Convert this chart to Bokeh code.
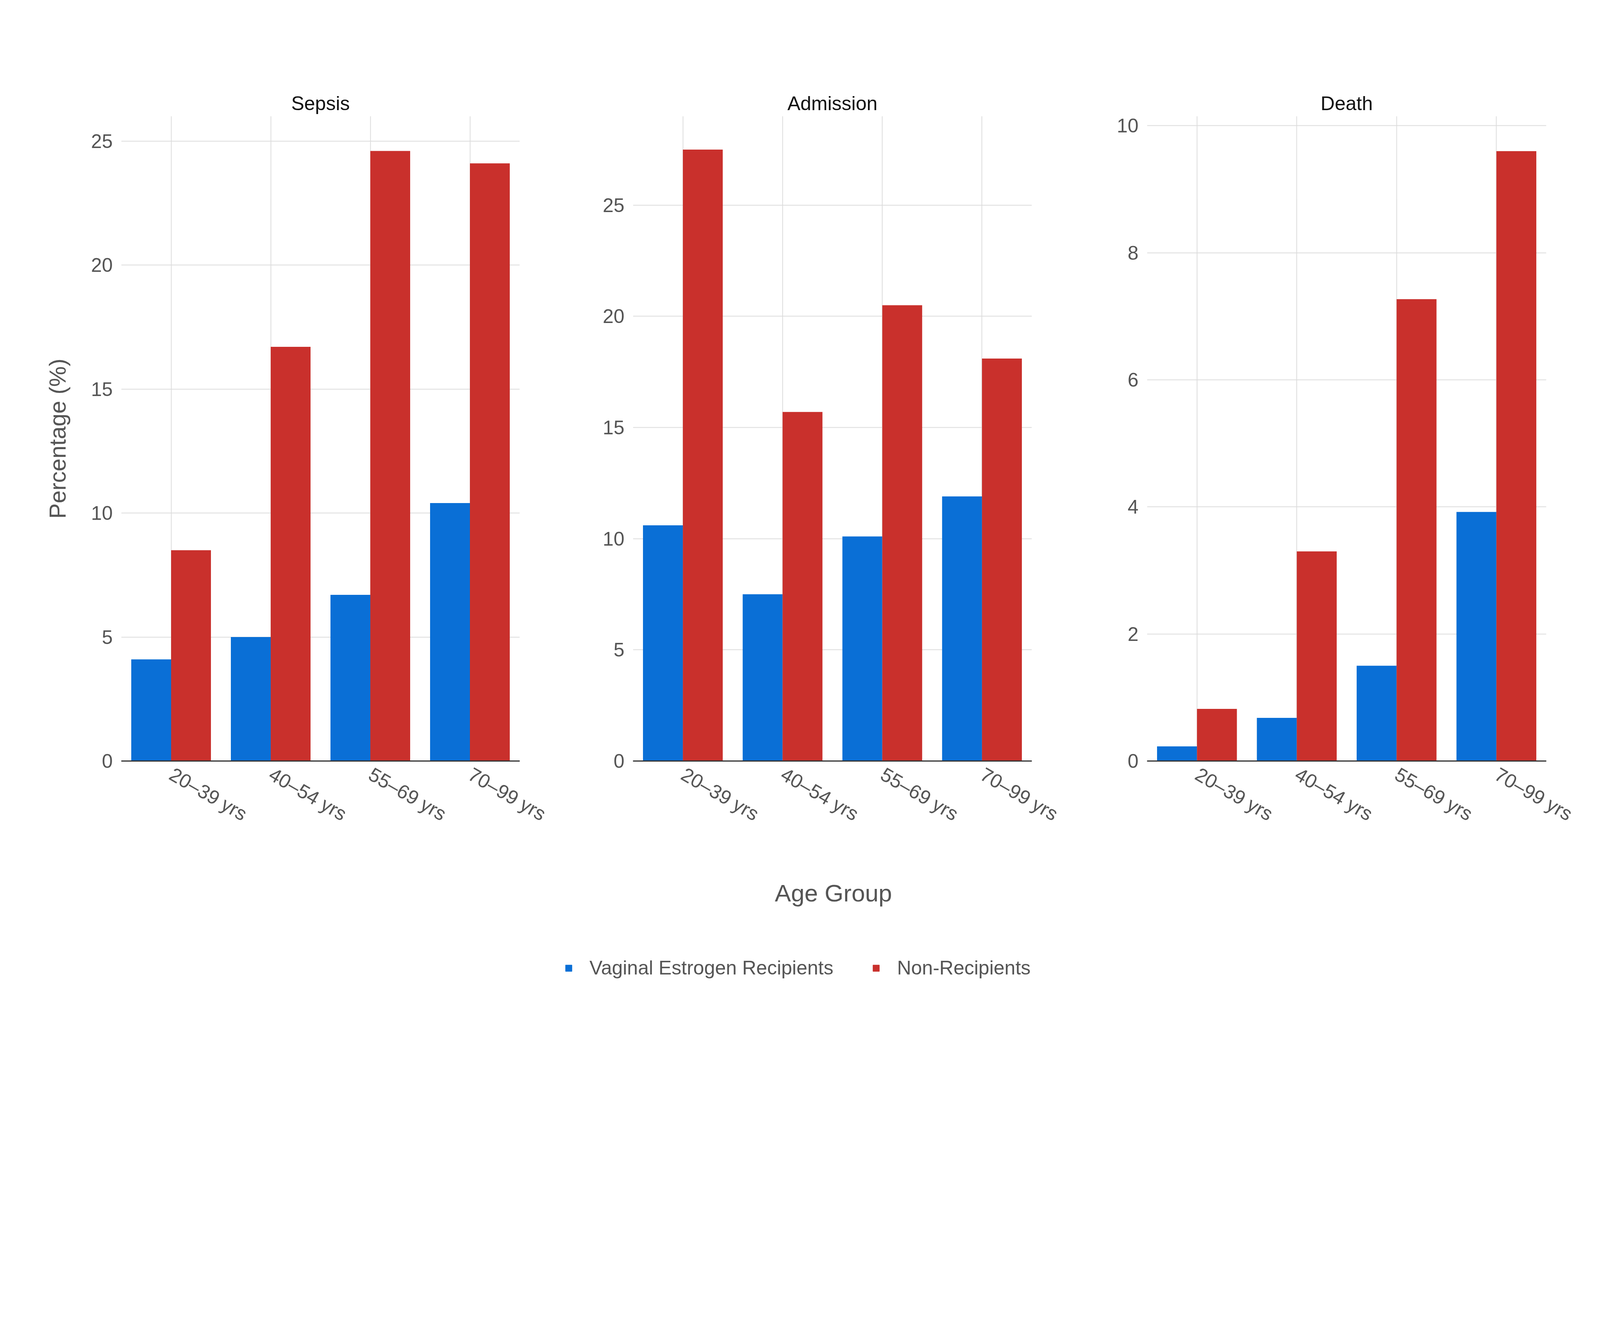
import math
from bokeh.plotting import figure
from bokeh.layouts import column, row
from bokeh.models import Range1d, Label, Legend, LegendItem, ColumnDataSource, FactorRange
from bokeh.transform import dodge
from bokeh.embed import file_html
from bokeh.resources import INLINE

groups = ["20–39 yrs", "40–54 yrs", "55–69 yrs", "70–99 yrs"]
panels = ["Sepsis", "Admission", "Death"]
recipients = {
    "Sepsis": [4.1, 5.0, 6.7, 10.4],
    "Admission": [10.6, 7.5, 10.1, 11.9],
    "Death": [0.23, 0.68, 1.5, 3.92],
}
non_recipients = {
    "Sepsis": [8.5, 16.7, 24.6, 24.1],
    "Admission": [27.5, 15.7, 20.5, 18.1],
    "Death": [0.82, 3.3, 7.27, 9.6],
}
y_max = {"Sepsis": 26, "Admission": 29, "Death": 10.15}
series_names = ["Vaginal Estrogen Recipients", "Non-Recipients"]
BLUE = "#0a6fd6"
RED = "#c9302c"
FONT = "Liberation Sans"
S = 1 / 1.23


def px(v):
    return int(round(v * S))


def fs(v):
    return f"{v * S:.0f}px"


borders = {"Sepsis": (381, 100), "Admission": (257, 100), "Death": (263, 150)}
frame_w = {"Sepsis": 1254, "Admission": 1256, "Death": 1257}

figs = []
for name in panels:
    l, r = borders[name]
    p = figure(x_range=FactorRange(*groups, range_padding=0), y_range=Range1d(0, y_max[name]),
               width=px(l + frame_w[name] + r), height=px(365 + 2031 + 290),
               min_border_left=px(l), min_border_right=px(r), min_border_top=px(365),
               min_border_bottom=px(290),
               output_backend="svg", toolbar_location=None, title=name)
    src = ColumnDataSource(dict(g=groups, a=recipients[name], b=non_recipients[name]))
    p.vbar(x=dodge("g", -0.2, range=p.x_range), top="a", width=0.4, source=src,
           color=BLUE, line_color=None)
    p.vbar(x=dodge("g", 0.2, range=p.x_range), top="b", width=0.4, source=src,
           color=RED, line_color=None)
    p.title.align = "center"
    p.title.text_font = FONT
    p.title.text_font_size = fs(62)
    p.title.text_font_style = "normal"
    p.title.text_color = "#111111"
    p.outline_line_color = None
    p.grid.grid_line_color = "#dcdcdc"
    p.grid.grid_line_width = 2
    for ax in (p.xaxis[0], p.yaxis[0]):
        ax.major_label_text_font = FONT
        ax.major_label_text_font_size = fs(62)
        ax.major_label_text_color = "#555555"
        ax.major_tick_line_color = None
        ax.minor_tick_line_color = None
    p.xaxis.axis_line_color = "#333333"
    p.xaxis.axis_line_width = 3
    p.xaxis.major_label_orientation = -math.pi / 6
    p.xaxis.major_label_standoff = px(30)
    p.yaxis.axis_line_color = None
    p.yaxis.major_label_standoff = px(20)
    if name == "Sepsis":
        p.yaxis.axis_label = "Percentage (%)"
        p.yaxis.axis_label_text_font = FONT
        p.yaxis.axis_label_text_font_size = fs(72)
        p.yaxis.axis_label_text_font_style = "normal"
        p.yaxis.axis_label_text_color = "#555555"
        p.yaxis.axis_label_standoff = px(60)
    figs.append(p)

BH = px(440)
bottom = figure(width=px(5040), height=BH, x_range=Range1d(0, 1), y_range=Range1d(0, 1),
                output_backend="svg", toolbar_location=None)
bottom.axis.visible = False
bottom.grid.visible = False
bottom.outline_line_color = None
bottom.min_border = 0
bottom.add_layout(Label(x=px(2623), y=BH - px(125), x_units="screen", y_units="screen",
                        text="Age Group", text_font=FONT, text_font_size=fs(76),
                        text_color="#555555", text_align="center", text_baseline="middle"))
r1 = bottom.scatter([-5], [-5], marker="square", color=BLUE)
r2 = bottom.scatter([-5], [-5], marker="square", color=RED)
leg = Legend(items=[LegendItem(label=series_names[0], renderers=[r1]),
                    LegendItem(label=series_names[1], renderers=[r2])],
             orientation="horizontal", location=(px(1765), BH - px(352) - px(45)),
             label_text_font=FONT, label_text_font_size=fs(62), label_text_color="#555555",
             glyph_width=px(50), glyph_height=px(50), spacing=px(110), label_standoff=px(40),
             border_line_color=None, background_fill_alpha=0)
bottom.add_layout(leg, "center")

layout = column(row(*figs), bottom)
html = file_html(layout, INLINE)
open("out.html", "w").write(html)
